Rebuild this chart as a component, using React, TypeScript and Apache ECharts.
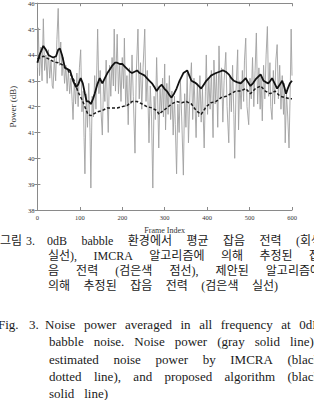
import React, { useEffect, useRef } from "react";
import * as echarts from "echarts";

// ---- data (frame index, power in dB) ----
const grayNoise: [number, number][] = [
  [0, 43.5], [2, 45.05], [5, 43.2], [8, 44.3], [11, 43.0], [14, 45.4], [17, 43.4], [20, 44.0], [23, 42.9], [26, 44.2],
  [29, 43.1], [32, 43.8], [35, 42.8], [37, 42.7], [40, 43.9], [43, 43.0], [46, 44.6], [49, 45.8], [52, 43.6], [55, 44.5],
  [58, 43.2], [61, 43.9], [64, 42.9], [67, 43.6], [70, 42.6], [73, 43.4], [76, 42.5], [79, 43.1], [82, 42.2], [84, 41.5],
  [87, 43.0], [90, 42.1], [93, 43.3], [96, 42.0], [99, 43.5], [102, 44.2], [105, 41.8], [108, 42.6], [110, 40.8], [112, 39.4],
  [115, 42.5], [118, 41.2], [121, 42.9], [124, 41.0], [126, 38.85], [129, 42.4], [132, 41.6], [135, 43.2], [138, 41.9], [142, 45.0],
  [145, 42.5], [148, 43.4], [150, 41.8], [153, 40.9], [156, 43.0], [159, 42.2], [162, 43.8], [165, 42.0], [167, 41.0], [170, 43.6],
  [173, 42.4], [176, 43.9], [179, 42.8], [181, 45.0], [184, 42.6], [188, 44.8], [191, 42.5], [194, 43.6], [197, 42.2], [200, 43.9],
  [203, 42.7], [205, 44.65], [208, 42.0], [211, 43.2], [214, 41.3], [217, 43.5], [220, 42.1], [223, 44.0], [226, 42.4], [230, 40.2],
  [233, 43.3], [237, 45.0], [240, 42.3], [243, 43.7], [246, 41.9], [249, 43.5], [253, 45.0], [256, 42.2], [259, 43.4], [263, 40.6],
  [266, 42.8], [269, 41.6], [272, 38.85], [275, 42.4], [278, 41.5], [281, 43.9], [284, 41.9], [286, 40.4], [289, 42.7], [292, 41.8],
  [295, 43.1], [297, 41.6], [300, 43.65], [302, 41.1], [305, 42.9], [308, 41.7], [311, 43.2], [314, 41.5], [317, 42.6], [320, 40.9],
  [323, 42.4], [325, 41.3], [328, 39.4], [331, 42.1], [334, 41.0], [337, 43.0], [340, 41.6], [344, 39.35], [347, 42.5], [350, 41.2],
  [353, 43.3], [356, 40.6], [360, 42.8], [363, 43.7], [366, 41.5], [369, 43.1], [372, 41.8], [374, 40.8], [377, 42.9], [380, 41.6],
  [383, 43.2], [386, 41.4], [389, 42.7], [393, 40.4], [396, 42.6], [398, 44.0], [401, 41.7], [404, 43.1], [407, 41.9], [410, 43.4],
  [414, 40.8], [416, 43.8], [419, 42.1], [422, 43.3], [425, 41.2], [428, 44.35], [431, 42.3], [434, 43.5], [437, 41.4], [440, 43.0],
  [444, 44.1], [447, 42.0], [451, 40.6], [454, 43.2], [457, 41.8], [460, 43.6], [463, 41.7], [465, 40.0], [468, 42.6], [472, 44.2],
  [474, 41.1], [477, 43.0], [480, 41.9], [483, 43.4], [486, 42.2], [488, 43.8], [491, 44.65], [494, 42.0], [498, 41.3], [501, 43.1],
  [504, 42.3], [507, 43.9], [510, 42.0], [513, 43.4], [516, 44.85], [519, 42.1], [522, 43.5], [525, 41.9], [527, 43.2], [530, 41.45],
  [533, 43.6], [536, 42.3], [539, 44.0], [542, 45.1], [545, 42.4], [548, 43.7], [550, 42.0], [553, 41.5], [556, 43.4], [559, 42.1],
  [562, 43.8], [565, 44.4], [568, 42.3], [571, 43.6], [574, 41.9], [577, 43.2], [580, 41.7], [582, 42.9], [584, 40.6], [587, 42.5],
  [590, 41.6], [593, 40.4], [596, 42.8], [598, 45.0], [600, 43.2],
];

const imcra: [number, number][] = [
  [0, 43.85], [7, 43.9], [14, 43.95], [20, 43.9], [26, 43.85], [32, 43.8], [37, 43.75], [43, 43.72], [49, 43.7], [55, 43.65],
  [60, 43.6], [66, 43.5], [72, 43.4], [78, 43.25], [84, 43.1], [90, 42.85], [95, 42.6], [101, 42.4], [107, 42.2], [113, 41.95],
  [119, 41.7], [126, 41.65], [133, 41.72], [142, 41.8], [153, 41.85], [165, 41.95], [177, 41.95], [188, 41.95], [200, 42.0], [212, 42.05],
  [223, 42.2], [235, 42.2], [247, 42.1], [258, 42.0], [270, 41.95], [281, 41.85], [287, 41.7], [293, 41.8], [305, 41.95], [316, 42.1],
  [328, 42.2], [340, 42.15], [351, 42.2], [363, 42.1], [374, 41.85], [386, 41.7], [398, 42.0], [409, 42.15], [421, 42.2], [433, 42.35],
  [445, 42.4], [456, 42.5], [467, 42.6], [479, 42.6], [491, 42.7], [502, 42.5], [514, 42.7], [526, 42.8], [537, 42.6], [549, 42.5],
  [560, 42.6], [572, 42.4], [584, 42.35], [595, 42.3], [600, 42.3],
];

const proposed: [number, number][] = [
  [0, 43.7], [5, 44.0], [14, 44.35], [20, 44.2], [26, 44.0], [31, 43.95], [37, 43.9], [44, 43.95], [49, 44.2], [53, 44.25],
  [58, 44.0], [65, 43.5], [71, 43.45], [77, 43.4], [84, 43.0], [91, 42.75], [96, 42.85], [102, 43.1], [107, 42.9], [112, 42.5],
  [116, 42.2], [121, 42.2], [126, 42.1], [131, 42.3], [135, 42.5], [141, 42.85], [147, 43.1], [153, 42.9], [159, 43.1], [165, 43.3],
  [171, 43.45], [177, 43.6], [183, 43.7], [188, 43.7], [194, 43.65], [200, 43.65], [206, 43.55], [212, 43.45], [218, 43.35], [223, 43.3],
  [229, 43.35], [235, 43.4], [241, 43.3], [247, 43.25], [253, 43.2], [258, 43.1], [264, 43.0], [270, 42.9], [276, 42.75], [281, 42.6],
  [287, 42.75], [293, 42.85], [299, 42.7], [305, 42.6], [311, 42.45], [316, 42.35], [322, 42.5], [328, 42.7], [335, 43.0], [344, 43.3],
  [353, 43.4], [358, 43.2], [363, 43.0], [369, 42.95], [374, 42.9], [380, 42.8], [386, 42.7], [392, 42.85], [398, 43.0], [404, 43.1],
  [409, 43.2], [415, 43.25], [421, 43.3], [429, 43.35], [437, 43.4], [444, 43.35], [451, 43.25], [457, 43.1], [463, 43.0], [470, 42.95],
  [479, 42.9], [485, 43.0], [491, 43.1], [496, 42.95], [502, 42.8], [508, 42.9], [514, 43.05], [520, 43.15], [526, 43.25], [533, 43.0],
  [538, 42.95], [544, 42.9], [549, 43.0], [553, 43.1], [559, 42.9], [565, 42.7], [571, 42.85], [577, 43.0], [582, 42.75], [586, 42.5],
  [590, 42.7], [595, 42.9], [600, 43.0],
];

const xAxisTitle = "Frame Index";
const yAxisTitle = "Power (dB)";

const captionKoLabel = ["그림", "3."];
const captionKo = [
  "0dB babble 환경에서 평균 잡음 전력 (회색",
  "실선), IMCRA 알고리즘에 의해 추정된 잡",
  "음 전력 (검은색 점선), 제안된 알고리즘에",
  "의해 추정된 잡음 전력 (검은색 실선)",
];
const captionEnLabel = ["Fig.", "3."];
const captionEn = [
  "Noise power averaged in all frequency at 0dB",
  "babble noise. Noise power (gray solid line),",
  "estimated noise power by IMCRA (black",
  "dotted line), and proposed algorithm (black",
  "solid line)",
];

// ---- layout (not data) ----
const SERIF = "'Liberation Serif', 'Noto Sans CJK KR', serif";
const KO_FONT = "'Liberation Serif', 'Noto Sans CJK KR', serif";
const koLayout = { size: 12, y: [240.5, 255.9, 270.9, 285.6], x0: [47, 48, 48, 48], x1: [322, 320, 321, 278], labelX: [0, 26] };
const enLayout = { size: 13, y: [324, 341.5, 359, 376.5, 393.5], x0: [45, 49, 49, 49, 49], x1: [321, 317, 320, 320, 108], labelX: [-2, 29] };

function buildCaption(lines: string[], label: string[], lay: any, family: string) {
  const canvas = document.createElement("canvas");
  const ctx = canvas.getContext("2d")!;
  ctx.font = `${lay.size}px ${family}`;
  const els: any[] = [];
  const mk = (text: string, x: number, y: number) => ({
    type: "text",
    x,
    y,
    silent: true,
    style: {
      text,
      fontSize: lay.size,
      fontFamily: family,
      fill: "#1a1a1a",
      textAlign: "left",
      textVerticalAlign: "middle",
    },
  });
  label.forEach((w, i) => els.push(mk(w, lay.labelX[i], lay.y[0])));
  lines.forEach((line, i) => {
    const words = line.split(" ");
    const widths = words.map((w) => ctx.measureText(w).width);
    const sum = widths.reduce((a, b) => a + b, 0);
    const gap = words.length > 1 ? (lay.x1[i] - lay.x0[i] - sum) / (words.length - 1) : 0;
    let x = lay.x0[i];
    words.forEach((w, k) => {
      els.push(mk(w, x, lay.y[i]));
      x += widths[k] + gap;
    });
  });
  return els;
}

const axisColor = "#8a8a8a";
const labelStyle = { fontSize: 6.5, fontFamily: SERIF, color: "#333" };

export default function App() {
  const ref = useRef<HTMLDivElement>(null);
  useEffect(() => {
    document.body.style.margin = "0";
    if (!ref.current) return;
    const chart = echarts.init(ref.current, undefined, { renderer: "svg" });
    const common = {
      axisLine: { show: true, lineStyle: { color: axisColor, width: 1 } },
      axisTick: { show: true, inside: true, length: 3, lineStyle: { color: axisColor } },
      splitLine: { show: false },
    };
    chart.setOption({
      animation: false,
      backgroundColor: "#fff",
      grid: { left: 34, right: 22, top: 2, height: 208, containLabel: false },
      xAxis: [
        {
          type: "value", min: 0, max: 600, interval: 100, position: "bottom",
          ...common,
          axisLabel: { ...labelStyle, margin: 4 },
          name: xAxisTitle, nameLocation: "middle", nameGap: 20,
          nameTextStyle: { fontSize: 8, fontFamily: SERIF, color: "#333", verticalAlign: "middle" },
        },
        {
          type: "value", min: 0, max: 600, interval: 100, position: "top",
          ...common, axisLabel: { show: false },
        },
      ],
      yAxis: [
        {
          type: "value", min: 38, max: 46, interval: 1, position: "left",
          ...common,
          axisLabel: { ...labelStyle, margin: 3 },
          name: yAxisTitle, nameLocation: "middle", nameGap: 16,
          nameTextStyle: { fontSize: 9, fontFamily: SERIF, color: "#333", verticalAlign: "middle" },
        },
        {
          type: "value", min: 38, max: 46, interval: 1, position: "right",
          ...common, axisLabel: { show: false },
        },
      ],
      series: [
        {
          name: "Noise power", type: "line", data: grayNoise, showSymbol: false, symbol: "none",
          lineStyle: { color: "#a0a0a0", width: 0.9 }, z: 1,
        },
        {
          name: "IMCRA", type: "line", data: imcra, showSymbol: false, symbol: "none",
          lineStyle: { color: "#1a1a1a", width: 1.5, type: [3, 2] }, z: 2,
        },
        {
          name: "Proposed", type: "line", data: proposed, showSymbol: false, symbol: "none",
          lineStyle: { color: "#111", width: 1.8 }, z: 3,
        },
      ],
      graphic: [
        ...buildCaption(captionKo, captionKoLabel, koLayout, KO_FONT),
        ...buildCaption(captionEn, captionEnLabel, enLayout, SERIF),
      ],
    });
    return () => chart.dispose();
  }, []);
  return <div ref={ref} style={{ width: 314, height: 400, position: "absolute", left: 0, top: 0, overflow: "hidden" }} />;
}
